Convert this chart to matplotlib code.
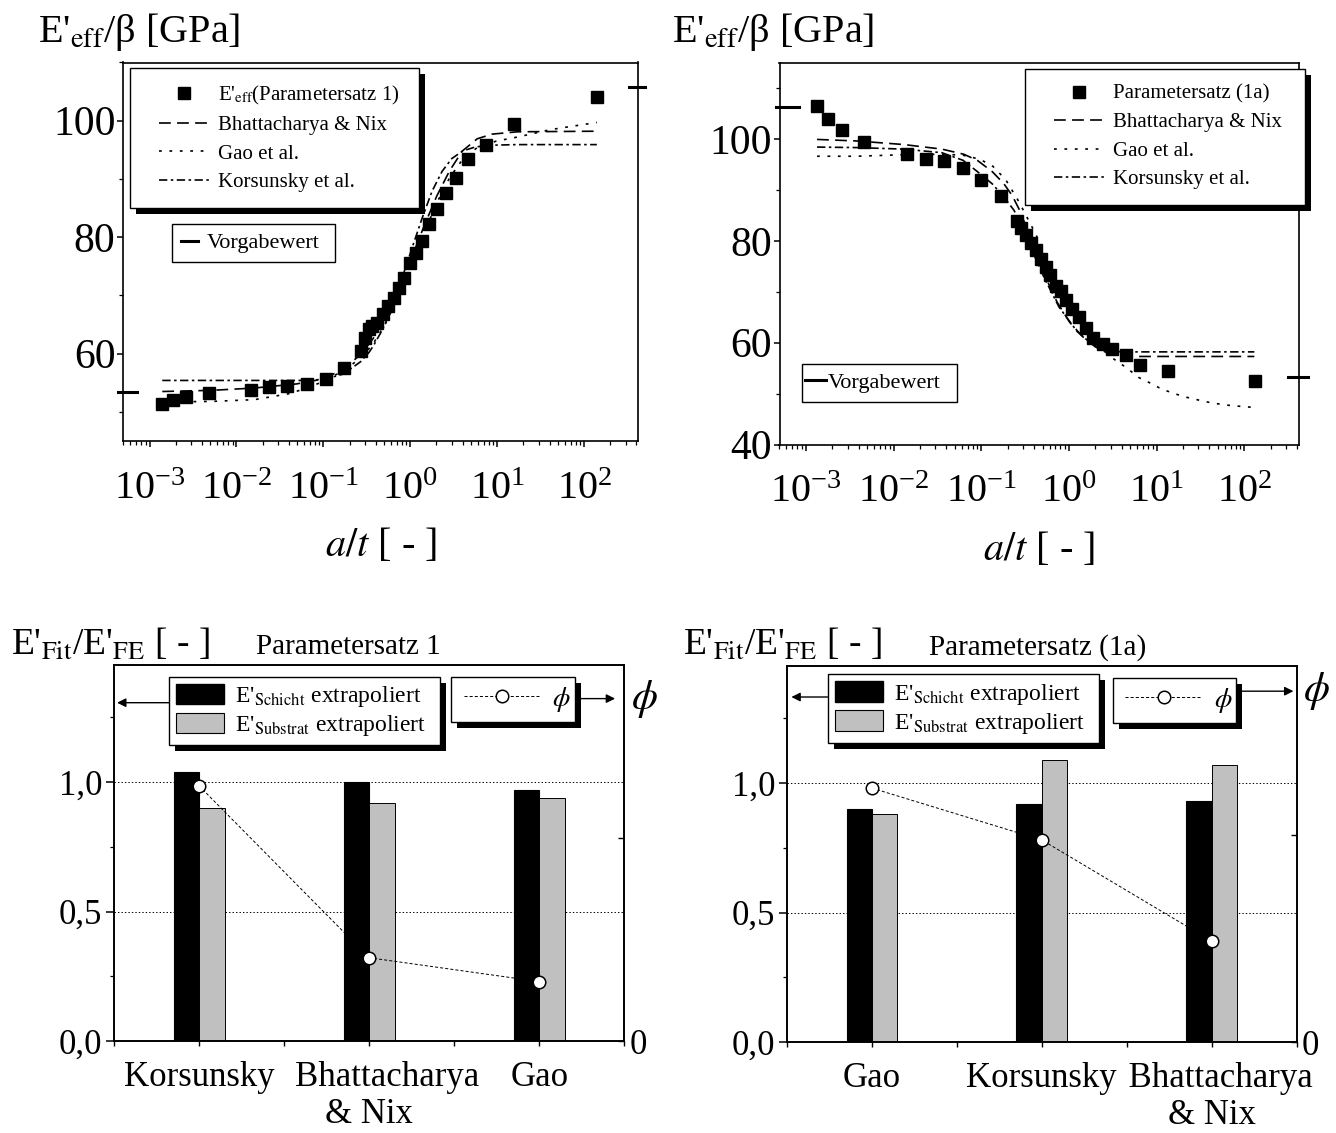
import numpy as np
import matplotlib
matplotlib.use("Agg")
import matplotlib.pyplot as plt
from matplotlib.lines import Line2D
from matplotlib.patches import Patch, Rectangle
from matplotlib.legend_handler import HandlerLine2D
import matplotlib.transforms as mtransforms
from matplotlib.ticker import LogLocator, FixedLocator, NullFormatter, MultipleLocator

plt.rcParams['font.family'] = ['Liberation Serif', 'DejaVu Serif']
plt.rcParams['mathtext.fontset'] = 'stix'
plt.rcParams['lines.scale_dashes'] = False
plt.rcParams['axes.linewidth'] = 1.2

# ---------------- data: top-left (Parametersatz 1) ----------------
tl_pts_x = [0.00140, 0.00184, 0.00266, 0.00478, 0.0147, 0.0236, 0.0386, 0.064, 0.106, 0.172,
            0.268, 0.300, 0.334, 0.364, 0.416, 0.488, 0.556, 0.650, 0.740, 0.840, 0.980,
            1.15, 1.37, 1.63, 2.03, 2.58, 3.36, 4.60, 7.40, 15.4, 140]
tl_pts_y = [51.4, 52.1, 52.6, 53.2, 53.8, 54.2, 54.5, 54.8, 55.6, 57.6,
            60.4, 62.7, 64.2, 64.7, 65.3, 66.8, 68.2, 69.6, 71.3, 73.0, 75.6,
            77.3, 79.3, 82.2, 84.9, 87.6, 90.2, 93.5, 95.8, 99.5, 104.0]
tl_bn_x = [0.0014, 0.0052, 0.0161, 0.049, 0.103, 0.17, 0.267, 0.374, 0.525, 0.735, 1.03,
           1.44, 2.02, 2.83, 3.97, 5.89, 8.72, 17.1, 140]
tl_bn_y = [53.5, 53.7, 54.1, 54.8, 55.7, 57.4, 59.8, 62.6, 66.6, 71.2, 76.4,
           81.9, 87.1, 91.4, 94.8, 96.9, 97.7, 98.1, 98.2]
tl_gao_x = [0.0014, 0.0052, 0.0161, 0.0395, 0.0619, 0.103, 0.17, 0.267, 0.374, 0.525, 0.735,
            1.03, 1.44, 2.02, 2.83, 3.97, 5.89, 9.75, 17.1, 42.1, 140]
tl_gao_y = [51.7, 51.8, 52.1, 53.1, 54.0, 55.3, 57.1, 59.2, 61.7, 65.3, 69.9,
            75.2, 80.7, 85.9, 90.2, 93.3, 95.4, 96.5, 97.2, 98.5, 99.7]
tl_kor_x = [0.0014, 0.062, 0.103, 0.17, 0.267, 0.334, 0.374, 0.474, 0.618, 0.805, 1.05,
            1.37, 1.78, 2.32, 3.0, 4.0, 5.6, 8.7, 17.0, 140]
tl_kor_y = [55.4, 55.4, 55.6, 56.5, 58.6, 60.2, 61.3, 64.0, 68.0, 73.0, 78.2,
            83.3, 87.9, 91.3, 93.5, 94.8, 95.5, 95.8, 95.9, 95.9]
tl_ref = [53.5, 105.8]          # Vorgabewert (left edge, right edge)

# ---------------- data: top-right (Parametersatz 1a) ----------------
tr_pts_x = [0.00134, 0.00177, 0.00256, 0.00458, 0.0143, 0.0235, 0.0374, 0.0617, 0.1005, 0.169,
            0.257, 0.286, 0.326, 0.372, 0.424, 0.474, 0.541, 0.601, 0.703, 0.802, 0.914,
            1.09, 1.30, 1.55, 1.90, 2.47, 3.12, 4.43, 6.5, 13.5, 133]
tr_pts_y = [106.5, 103.9, 101.8, 99.4, 97.1, 96.1, 95.6, 94.2, 92.0, 88.7,
            83.8, 82.5, 81.1, 79.6, 78.1, 76.5, 74.9, 73.3, 71.2, 70.2, 68.4,
            66.6, 65.1, 62.9, 60.9, 59.7, 58.7, 57.6, 55.7, 54.5, 52.4]
tr_bn_x = [0.00134, 0.00378, 0.013, 0.0355, 0.063, 0.09, 0.133, 0.181, 0.225, 0.27, 0.33,
           0.42, 0.52, 0.73, 1.02, 1.43, 1.99, 2.79, 3.9, 5.5, 130]
tr_bn_y = [99.9, 99.6, 98.9, 98.0, 97.0, 95.8, 93.6, 91.2, 88.9, 86.2, 82.5,
           77.8, 73.5, 68.0, 64.0, 61.2, 59.2, 57.9, 57.4, 57.3, 57.3]
tr_gao_x = [0.00134, 0.00378, 0.013, 0.0355, 0.062, 0.097, 0.136, 0.19, 0.266, 0.372, 0.52,
            0.728, 1.02, 1.43, 1.99, 3.12, 4.6, 6.2, 8.4, 11.4, 15.4, 20.5, 27.5, 36.7,
            50.0, 67.6, 91.6, 128]
tr_gao_y = [96.6, 96.6, 96.9, 97.0, 96.8, 96.0, 94.6, 92.0, 87.8, 83.0, 78.0,
            73.0, 68.6, 64.5, 61.0, 57.0, 55.0, 53.2, 52.1, 50.9, 50.1, 49.4, 48.9, 48.4,
            48.0, 47.7, 47.5, 47.3]
tr_kor_x = [0.00134, 0.00378, 0.013, 0.0355, 0.062, 0.09, 0.133, 0.181, 0.236, 0.3, 0.4,
            0.52, 0.77, 1.24, 1.77, 2.51, 3.9, 130]
tr_kor_y = [98.4, 98.3, 98.0, 97.3, 95.8, 93.6, 91.2, 88.6, 86.0, 82.5, 77.2,
            72.8, 67.0, 62.2, 59.9, 58.6, 58.2, 58.2]
tr_ref = [106.2, 53.2]          # Vorgabewert (left edge, right edge)

# ---------------- data: bottom bar charts ----------------
bl_cats = ["Korsunsky", "    Bhattacharya\n& Nix", "Gao"]
bl_schicht = [1.04, 1.00, 0.97]
bl_substrat = [0.90, 0.92, 0.94]
bl_phi = [0.985, 0.322, 0.230]

br_cats = ["Gao", "Korsunsky", "  Bhattacharya\n& Nix"]
br_schicht = [0.90, 0.92, 0.93]
br_substrat = [0.88, 1.09, 1.07]
br_phi = [0.98, 0.78, 0.39]

# ---------------- styles ----------------
DASH = (0, (8.5, 4.5))
DOT = (0, (2.0, 5.5))
DASHDOT = (0, (6.0, 2.5, 1.8, 2.5))
PHI_LS = (0, (2.2, 1.5))
GRAY = '#c0c0c0'

W, H = 1336, 1133
fig = plt.figure(figsize=(W / 100, H / 100), dpi=100)


def px_rect(l, t, r, b):
    return [l / W, 1 - b / H, (r - l) / W, (b - t) / H]


shadow_list = []


def bbox_from_px(axpx, l, t, r, b):
    al, at, ar, ab = axpx
    x0 = (l - al) / (ar - al)
    x1 = (r - al) / (ar - al)
    y1 = 1 - (t - at) / (ab - at)
    y0 = 1 - (b - at) / (ab - at)
    return (x0, y0, x1 - x0, y1 - y0)


def top_panel(axpx, px, py, curves, ylim, ref_vals, ref_lx, ref_rx,
              main_label, main_bbox, ref_bbox, ref_hl, ref_xpad, ref_htp):
    ax = fig.add_axes(px_rect(*axpx))
    ax.set_xscale('log')
    ax.set_xlim(5e-4, 4.2e2)
    ax.set_ylim(*ylim)
    for (cx, cy, ls) in curves:
        ax.plot(cx, cy, color='black', lw=1.2, ls=ls, zorder=2)
    ax.plot(px, py, ls='none', marker='s', ms=8.3, color='black', zorder=3)

    # reference value markers at the axes edges
    trans = mtransforms.blended_transform_factory(ax.transAxes, ax.transData)
    ax.plot(ref_lx, [ref_vals[0]] * 2, color='black', lw=2.2, transform=trans, clip_on=False)
    ax.plot(ref_rx, [ref_vals[1]] * 2, color='black', lw=2.2, transform=trans, clip_on=False)

    ax.xaxis.set_major_locator(LogLocator(base=10, numticks=20))
    ax.xaxis.set_minor_locator(LogLocator(base=10, subs=np.arange(2, 10), numticks=20))
    ax.xaxis.set_minor_formatter(NullFormatter())
    ax.yaxis.set_major_locator(MultipleLocator(20))
    ax.yaxis.set_minor_locator(MultipleLocator(10))
    ax.tick_params(axis='x', which='major', direction='out', length=4.5, width=1.1,
                   labelsize=29, pad=17, top=False)
    ax.tick_params(axis='x', which='minor', direction='out', length=2.6, width=0.9, top=False)
    ax.tick_params(axis='y', which='major', direction='out', length=4.6, width=1.1,
                   labelsize=30, pad=1, right=False)
    ax.tick_params(axis='y', which='minor', direction='out', length=2.9, width=0.9, right=False)
    ax.set_xlabel(r"$a/t$ [ - ]", fontsize=29, labelpad=14)

    # main legend
    h_sq = Line2D([], [], ls='none', marker='s', ms=8.3, color='black')
    h_bn = Line2D([], [], color='black', lw=1.2, ls=DASH)
    h_gao = Line2D([], [], color='black', lw=1.2, ls=DOT)
    h_kor = Line2D([], [], color='black', lw=1.2, ls=DASHDOT)
    hs = [h_sq, h_bn, h_gao, h_kor]
    hmap = {h: HandlerLine2D(numpoints=1, xpad=0.64) for h in hs}
    leg = ax.legend(hs, [main_label, "Bhattacharya & Nix", "Gao et al.", "Korsunsky et al."],
                    loc='upper left', bbox_to_anchor=main_bbox, mode='expand',
                    borderaxespad=0, fontsize=15, handlelength=3.07, handletextpad=0.42,
                    labelspacing=0.43, borderpad=0.75, fancybox=False, framealpha=1,
                    edgecolor='black', handler_map=hmap)
    leg.get_frame().set_linewidth(1.0)
    ax.add_artist(leg)
    shadow_list.append((ax, leg))

    h_ref = Line2D([], [], color='black', lw=2.2)
    leg2 = ax.legend([h_ref], ["Vorgabewert"], loc='upper left', bbox_to_anchor=ref_bbox,
                     mode='expand', borderaxespad=0, fontsize=16, handlelength=ref_hl,
                     handletextpad=ref_htp, borderpad=0.4, fancybox=False, framealpha=1,
                     edgecolor='black',
                     handler_map={h_ref: HandlerLine2D(numpoints=1, xpad=ref_xpad)})
    leg2.get_frame().set_linewidth(1.0)
    return ax


# ---------------- top-left ----------------
tl_px = (123.4, 62.5, 638.3, 441.0)
top_panel(tl_px, tl_pts_x, tl_pts_y,
          [(tl_bn_x, tl_bn_y, DASH), (tl_gao_x, tl_gao_y, DOT), (tl_kor_x, tl_kor_y, DASHDOT)],
          (45, 110), tl_ref, [-0.0105, 0.026], [0.982, 1.013],
          r"E'$_{\mathrm{eff}}$(Parametersatz 1)",
          bbox_from_px(tl_px, 129.8, 68.0, 419.1, 205.0),
          bbox_from_px(tl_px, 172.3, 223.9, 334.9, 267.9), 0.77, 0.0, 0.38)

# ---------------- top-right ----------------
tr_px = (779.5, 62.5, 1299.0, 444.6)
top_panel(tr_px, tr_pts_x, tr_pts_y,
          [(tr_bn_x, tr_bn_y, DASH), (tr_gao_x, tr_gao_y, DOT), (tr_kor_x, tr_kor_y, DASHDOT)],
          (40, 115), tr_ref, [-0.006, 0.0375], [0.979, 1.0165],
          "Parametersatz (1a)",
          bbox_from_px(tr_px, 1024.6, 68.6, 1305.0, 207.1),
          bbox_from_px(tr_px, 802.0, 363.6, 957.4, 406.4), 0.70, -0.25, 0.07)

fig.text(38 / W, 1 - 42 / H, r"E'$_{\mathrm{eff}}$/β [GPa]", fontsize=29, ha='left', va='baseline')
fig.text(672 / W, 1 - 42 / H, r"E'$_{\mathrm{eff}}$/β [GPa]", fontsize=29, ha='left', va='baseline')


# ---------------- bottom panels ----------------
def bottom_panel(axpx, cats, schicht, substrat, phi, title, title_x, bar_leg_px, phi_leg_px,
                 larrow, rarrow, phi_lab, phi_tick):
    ax = fig.add_axes(px_rect(*axpx))
    x = np.arange(1, len(cats) + 1)
    ax.bar(x - 0.075, schicht, width=0.15, color='black', edgecolor='black', lw=0.8, zorder=2)
    ax.bar(x + 0.075, substrat, width=0.15, color=GRAY, edgecolor='black', lw=0.7, zorder=2)
    ax.set_xlim(0.5, 3.5)
    ax.set_ylim(0, 1.45)
    ax.set_xticks(x)
    ax.set_xticklabels(cats, linespacing=1.15)
    ax.xaxis.set_minor_locator(FixedLocator([0.5, 1.5, 2.5, 3.5]))
    ax.set_yticks([0, 0.5, 1.0])
    ax.set_yticklabels(['0,0', '0,5', '1,0'])
    ax.yaxis.set_minor_locator(FixedLocator([0.25, 0.75, 1.25]))
    ax.yaxis.grid(True, which='major', ls=(0, (1.0, 1.5)), color='black', lw=0.7)
    ax.set_axisbelow(True)
    ax.tick_params(axis='x', which='both', direction='out', length=3.3, width=1.0,
                   labelsize=25, pad=11, top=False)
    ax.tick_params(axis='y', which='major', direction='out', length=5.5, width=1.1,
                   labelsize=25, pad=3, right=False)
    ax.tick_params(axis='y', which='minor', direction='out', length=3.0, width=0.9, right=False)

    ax2 = ax.twinx()
    ax2.set_ylim(0, 1.45)
    ax2.set_yticks([0, phi_tick])
    ax2.set_yticklabels(['0', ''])
    ax2.tick_params(axis='y', direction='in', length=4, width=1.0, labelsize=25, pad=4)
    ax2.plot(x, phi, color='black', lw=0.7, ls=PHI_LS, marker='o', ms=9, mfc='white',
             mec='black', mew=1.1, zorder=3)

    # legends
    h_s = Patch(facecolor='black', edgecolor='black')
    h_g = Patch(facecolor=GRAY, edgecolor='black', lw=0.8)
    leg = ax.legend([h_s, h_g], [r"E'$_{\mathrm{Schicht}}$ extrapoliert",
                                 r"E'$_{\mathrm{Substrat}}$ extrapoliert"],
                    loc='upper left', bbox_to_anchor=bbox_from_px(axpx, *bar_leg_px),
                    mode='expand', borderaxespad=0, fontsize=17, handlelength=2.03,
                    handleheight=0.97, handletextpad=0.47, labelspacing=0.16, borderpad=0.3,
                    fancybox=False, framealpha=1, edgecolor='black')
    leg.get_frame().set_linewidth(1.0)
    shadow_list.append((ax, leg))

    h_phi = Line2D([], [], color='black', lw=0.7, ls=PHI_LS, marker='o', ms=9, mfc='white',
                   mec='black', mew=1.1)
    leg2 = ax2.legend([h_phi], [r"$\phi$"], loc='upper left',
                      bbox_to_anchor=bbox_from_px(axpx, *phi_leg_px), mode='expand',
                      borderaxespad=0, fontsize=20, handlelength=2.93, handletextpad=0.4,
                      borderpad=0.3, fancybox=False, framealpha=1, edgecolor='black',
                      handler_map={h_phi: HandlerLine2D(numpoints=1, xpad=0.16)})
    leg2.get_frame().set_linewidth(1.0)
    shadow_list.append((ax2, leg2))

    ap = dict(arrowstyle='-|>', color='black', lw=1.0, mutation_scale=13, shrinkA=0, shrinkB=0)
    ax2.annotate('', xy=(larrow[1], larrow[2]), xytext=(larrow[0], larrow[2]),
                 xycoords='axes fraction', textcoords='axes fraction', arrowprops=ap,
                 annotation_clip=False)
    ax2.annotate('', xy=(rarrow[1], rarrow[2]), xytext=(rarrow[0], rarrow[2]),
                 xycoords='axes fraction', textcoords='axes fraction', arrowprops=ap,
                 annotation_clip=False)
    ax2.text(phi_lab[0], phi_lab[1], r"$\phi$", transform=ax2.transAxes, fontsize=30,
             ha='center', va='center')
    fig.text(title_x / W, 1 - 654.5 / H, title, fontsize=21, ha='center', va='baseline')
    return ax


bl_px = (114.0, 665.3, 624.3, 1041.2)
bottom_panel(bl_px, bl_cats, bl_schicht, bl_substrat, bl_phi, "Parametersatz 1", 348,
             (169.0, 676.5, 440.4, 748.6), (451.0, 676.5, 574.5, 724.0),
             (0.1078, 0.006, 0.9005), (0.9024, 0.982, 0.9114), (1.04, 0.911), 0.785)

br_px = (787.1, 666.3, 1296.5, 1042.2)
bottom_panel(br_px, br_cats, br_schicht, br_substrat, br_phi, "Parametersatz (1a)", 1038,
             (827.6, 674.1, 1098.6, 746.3), (1112.7, 677.6, 1236.0, 725.2),
             (0.0795, 0.0084, 0.9183), (0.881, 0.994, 0.9338), (1.040, 0.934), 0.80)

fig.text(10.6 / W, 1 - 654.4 / H, r"E'$_{\mathrm{Fit}}$/E'$_{\mathrm{FE}}$ [ - ]", fontsize=27,
         ha='left', va='baseline')
fig.text(683 / W, 1 - 655 / H, r"E'$_{\mathrm{Fit}}$/E'$_{\mathrm{FE}}$ [ - ]", fontsize=27,
         ha='left', va='baseline')

# ---------------- legend shadows ----------------
fig.canvas.draw()
renderer = fig.canvas.get_renderer()
inv = fig.transFigure.inverted()
for ax_, lg in shadow_list:
    bb = lg.get_frame().get_window_extent(renderer)
    fx0, fy0 = inv.transform((bb.x0 + 6, bb.y0 - 6))
    fx1, fy1 = inv.transform((bb.x1 + 6, bb.y1 - 6))
    r = Rectangle((fx0, fy0), fx1 - fx0, fy1 - fy0, transform=fig.transFigure,
                  facecolor='black', edgecolor='none', zorder=lg.get_zorder() - 0.01)
    ax_.add_artist(r)
    r.set_clip_on(False)

fig.savefig("out.png", dpi=100)
